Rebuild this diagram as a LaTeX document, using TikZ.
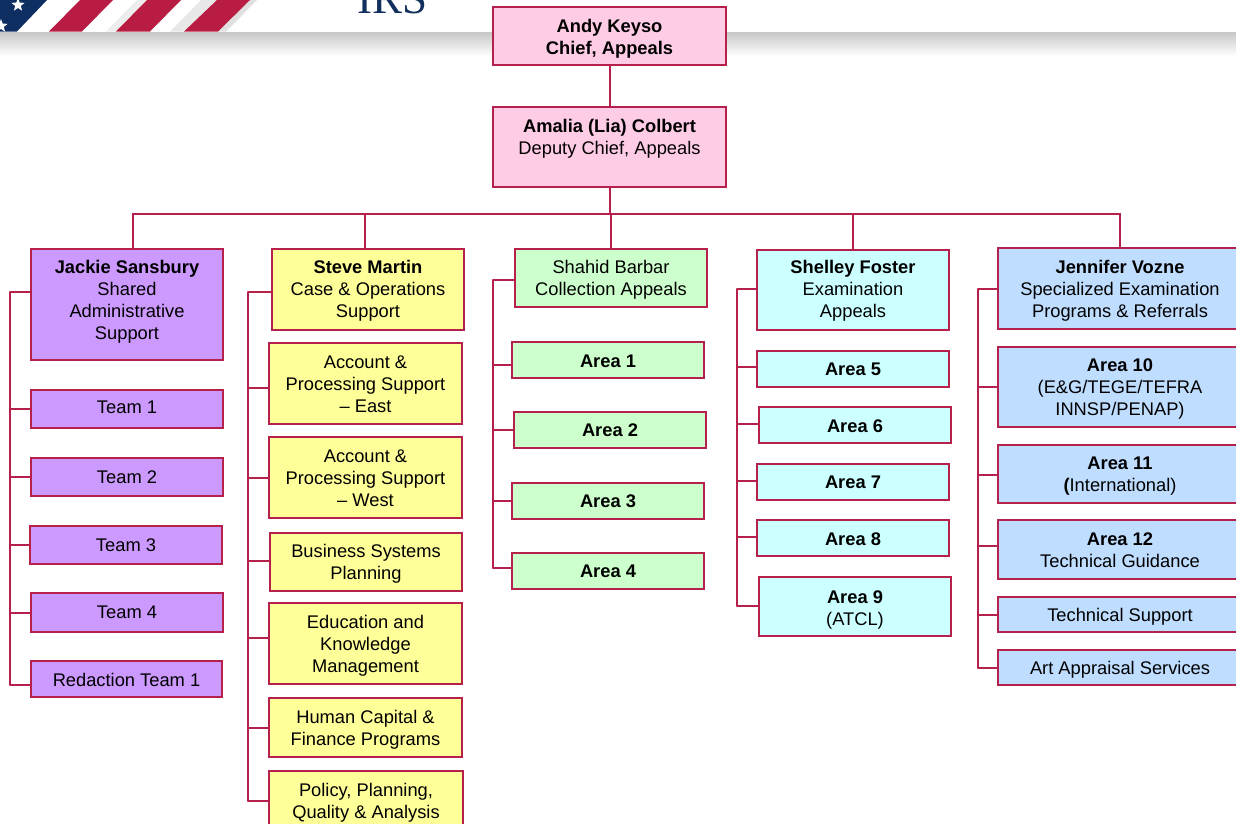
\documentclass[tikz,border=0pt]{standalone}
\usepackage{fontspec}
\setmainfont{Liberation Sans}
\newfontfamily\irsfont{Liberation Serif}
\usetikzlibrary{shapes.geometric}
\definecolor{linec}{HTML}{B5214A}
\definecolor{cpink}{HTML}{FFCCE6}
\definecolor{cpurple}{HTML}{CC99FF}
\definecolor{cyellow}{HTML}{FFFF99}
\definecolor{cgreen}{HTML}{CCFFCC}
\definecolor{ccyan}{HTML}{CCFFFF}
\definecolor{cblue}{HTML}{BFDDFF}
\definecolor{navy}{HTML}{12305E}
\definecolor{flagred}{HTML}{B81C42}
\definecolor{flagblue}{HTML}{0F2F63}
\tikzset{
  orgbox/.style={draw=linec,line width=1.5pt,inner sep=0pt,outer sep=0pt},
  conn/.style={draw=linec,line width=1.5pt,line cap=round},
  starmark/.style={star,star points=5,star point ratio=2.4,fill=white,inner sep=0pt,minimum size=14pt},
}
% name, x0, y0, x1, y1, fill, text centre y, text
\newcommand{\bx}[8]{%
  \pgfmathsetmacro{\cxv}{(#2+#4)/2}%
  \pgfmathsetmacro{\cyv}{(#3+#5)/2}%
  \pgfmathsetmacro{\wv}{#4-#2}%
  \pgfmathsetmacro{\hv}{#5-#3}%
  \pgfmathsetmacro{\dyv}{\cyv-#7-6}%
  \node[orgbox,fill=#6,minimum width=\wv pt,minimum height=\hv pt] (#1) at (\cxv,\cyv)
    {\fontsize{18.3}{22}\selectfont\raisebox{\dyv pt}[0pt][0pt]{\begin{tabular}[c]{@{}c@{}}#8\end{tabular}}};}
\newcommand{\stub}[3]{\draw[conn] (#1.west |- 0,#3) -- (#2 |- 0,#3);}
\begin{document}
\begin{tikzpicture}[x=1pt,y=-1pt]
\useasboundingbox (0,0) rectangle (1236,823);
\clip (0,0) rectangle (1236,823);
% header
\shade[top color=black!22,bottom color=white] (0,32) rectangle (1236,56);
\fill[flagblue] (0,0) -- (47,0) -- (17,31.5) -- (0,31.5) -- cycle;
\node[starmark] (starA) at (18,5) {};
\node[starmark] (starB) at (1,26) {};
\fill[black!7] (116,31.5) -- (106,31.5) -- (137,0) -- (147,0) -- cycle;
\fill[black!9] (184,31.5) -- (170,31.5) -- (201,0) -- (217,0) -- cycle;
\fill[black!12] (218,31.5) -- (226,31.5) -- (257,0) -- (250,0) -- cycle;
\fill[flagred] (49,31.5) -- (82,31.5) -- (113,0) -- (80,0) -- cycle;
\fill[flagred] (116,31.5) -- (150,31.5) -- (181,0) -- (147,0) -- cycle;
\fill[flagred] (184,31.5) -- (218,31.5) -- (250,0) -- (217,0) -- cycle;
\node[anchor=base,inner sep=0pt,text=navy] (irs) at (392.5,13) {\fontsize{45}{45}\selectfont\irsfont IRS};
% top
\bx{andy}{493}{7}{726}{65}{cpink}{37}{\textbf{Andy Keyso}\\\textbf{Chief, Appeals}}
\bx{amalia}{493}{107}{726}{187}{cpink}{137}{\textbf{Amalia (Lia) Colbert}\\Deputy Chief, Appeals}
% column 1
\bx{jackie}{31}{249}{223}{360}{cpurple}{300}{\textbf{Jackie Sansbury}\\Shared\\Administrative\\Support}
\bx{teamA}{31}{390}{223}{428}{cpurple}{407}{Team 1}
\bx{teamB}{31}{458}{223}{496}{cpurple}{477}{Team 2}
\bx{teamC}{30}{526}{222}{564}{cpurple}{545}{Team 3}
\bx{teamD}{31}{593}{223}{632}{cpurple}{612}{Team 4}
\bx{redact}{31}{661}{222}{697}{cpurple}{680}{Redaction Team 1}
% column 2
\bx{steve}{272}{249}{464}{330}{cyellow}{289}{\textbf{Steve Martin}\\Case \& Operations\\Support}
\bx{apeast}{269}{343}{462}{424}{cyellow}{384}{Account \&\\Processing Support\\-- East}
\bx{apwest}{269}{437}{462}{518}{cyellow}{478}{Account \&\\Processing Support\\-- West}
\bx{bsp}{270}{533}{462}{591}{cyellow}{562}{Business Systems\\Planning}
\bx{edu}{269}{603}{462}{684}{cyellow}{644}{Education and\\Knowledge\\Management}
\bx{hcf}{269}{698}{462}{757}{cyellow}{728}{Human Capital \&\\Finance Programs}
\bx{ppq}{269}{771}{463}{830}{cyellow}{801}{Policy, Planning,\\Quality \& Analysis}
% column 3
\bx{shahid}{515}{249}{707}{307}{cgreen}{278}{Shahid Barbar\\Collection Appeals}
\bx{areaA}{512}{342}{704}{378}{cgreen}{361}{\textbf{Area 1}}
\bx{areaB}{514}{412}{706}{448}{cgreen}{430}{\textbf{Area 2}}
\bx{areaC}{512}{483}{704}{519}{cgreen}{501}{\textbf{Area 3}}
\bx{areaD}{512}{553}{704}{589}{cgreen}{571}{\textbf{Area 4}}
% column 4
\bx{shelley}{757}{250}{949}{330}{ccyan}{289}{\textbf{Shelley Foster}\\Examination\\Appeals}
\bx{areaE}{757}{351}{949}{387}{ccyan}{369}{\textbf{Area 5}}
\bx{areaF}{759}{407}{951}{443}{ccyan}{426}{\textbf{Area 6}}
\bx{areaG}{757}{464}{949}{500}{ccyan}{482}{\textbf{Area 7}}
\bx{areaH}{757}{520}{949}{556}{ccyan}{539}{\textbf{Area 8}}
\bx{areaI}{759}{577}{951}{636}{ccyan}{608}{\textbf{Area 9}\\(ATCL)}
% column 5
\bx{jennifer}{998}{248}{1242}{329}{cblue}{289}{\textbf{Jennifer Vozne}\\Specialized Examination\\Programs \& Referrals}
\bx{areaJ}{998}{347}{1242}{427}{cblue}{387}{\textbf{Area 10}\\(E\&G/TEGE/TEFRA\\INNSP/PENAP)}
\bx{areaK}{998}{445}{1242}{503}{cblue}{474}{\textbf{Area 11}\\\textbf{(}International)}
\bx{areaL}{998}{520}{1242}{579}{cblue}{550}{\textbf{Area 12}\\Technical Guidance}
\bx{techsup}{998}{597}{1242}{632}{cblue}{615}{Technical Support}
\bx{art}{998}{650}{1242}{685}{cblue}{668}{Art Appraisal Services}
% top connectors
\coordinate (busL) at (133,214);
\coordinate (busR) at (1120,214);
\coordinate (busS) at (365,214);
\coordinate (busB) at (611,214);
\coordinate (busA) at (610,214);
\draw[conn] (andy.south -| busA) -- (amalia.north -| busA);
\draw[conn] (amalia.south -| busA) -- (busA);
\draw[conn] (jackie.north -| busL) -- (busL) -- (busR) -- (jennifer.north -| busR);
\draw[conn] (steve.north -| busS) -- (busS);
\draw[conn] (shahid.north -| busB) -- (busB);
\draw[conn] (shelley.north) -- (shelley.north |- busL);
% side buses
\coordinate (sideJ) at (10,292);
\draw[conn] (sideJ) -- (10,685);
\stub{jackie}{sideJ}{292}\stub{teamA}{sideJ}{409}\stub{teamB}{sideJ}{477}\stub{teamC}{sideJ}{545}\stub{teamD}{sideJ}{613}\stub{redact}{sideJ}{685}
\coordinate (sideS) at (248,292);
\draw[conn] (sideS) -- (248,801);
\stub{steve}{sideS}{292}\stub{apeast}{sideS}{388}\stub{apwest}{sideS}{478}\stub{bsp}{sideS}{561}\stub{edu}{sideS}{638}\stub{hcf}{sideS}{728}\stub{ppq}{sideS}{801}
\coordinate (sideB) at (493,280);
\draw[conn] (sideB) -- (493,568);
\stub{shahid}{sideB}{280}\stub{areaA}{sideB}{365}\stub{areaB}{sideB}{430}\stub{areaC}{sideB}{501}\stub{areaD}{sideB}{568}
\coordinate (sideF) at (737,289);
\draw[conn] (sideF) -- (737,606);
\stub{shelley}{sideF}{289}\stub{areaE}{sideF}{367}\stub{areaF}{sideF}{424}\stub{areaG}{sideF}{481}\stub{areaH}{sideF}{537}\stub{areaI}{sideF}{606}
\coordinate (sideV) at (978,289);
\draw[conn] (sideV) -- (978,668);
\stub{jennifer}{sideV}{289}\stub{areaJ}{sideV}{387}\stub{areaK}{sideV}{475}\stub{areaL}{sideV}{546}\stub{techsup}{sideV}{615}\stub{art}{sideV}{668}
\end{tikzpicture}
\end{document}
